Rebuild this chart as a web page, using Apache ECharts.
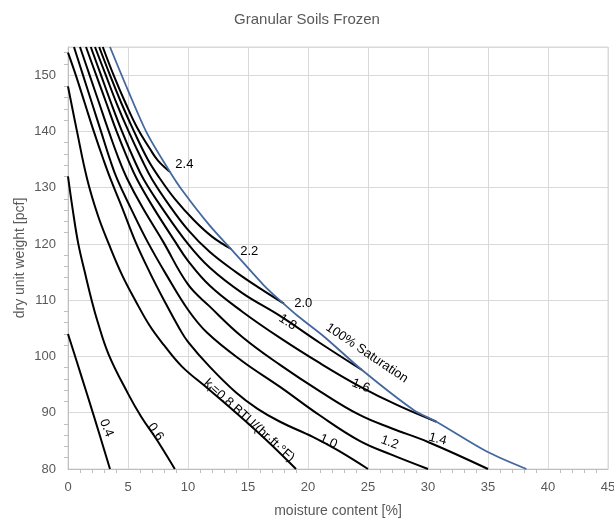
<!DOCTYPE html>
<html>
<head>
<meta charset="utf-8">
<script src="https://cdn.jsdelivr.net/npm/echarts@6.0.0/dist/echarts.min.js"></script>
<style>
html,body{margin:0;padding:0;background:#fff}
#chart{width:614px;height:523px}
</style>
</head>
<body>
<div id="chart"></div>
<script>
// thermal conductivity contours kf, [moisture %, dry unit weight pcf]
var k04 = [[0,104],[1.1,96.6],[2.1,89.8],[3.5,80]];
var k06 = [[0,132],[0.4,126],[0.86,120],[1.4,115],[1.97,110],[2.45,106.3],[3.4,100.3],[5.0,93.4],[6.1,89.3],[7.4,85.2],[8.9,80]];
var k08 = [[0,148],[0.75,140],[1.6,131.5],[2.5,125],[3.4,120],[4.5,114.5],[5.6,110],[6.8,105.5],[8.0,102],[9.5,98.2],[11.6,94.4],[14,90],[16.5,85.2],[19,80]];
var k10 = [[0,154],[0.65,150],[1.4,145],[2.15,140],[2.95,135],[3.55,131.5],[4.5,126.5],[5.6,120.5],[6.8,115],[8.0,110],[9.33,104.8],[10,102.6],[11.8,98.2],[14,93.6],[15.8,90.7],[17.67,88.4],[20.4,85.7],[22.5,83.3],[25,80]];
var k12 = [[0.5,155],[1.25,150],[2.0,145],[2.75,140],[3.5,135],[4.1,131.5],[5.2,126.5],[6.6,120.5],[8.2,114.5],[10,108.3],[11.6,104.2],[14.5,99.2],[17.67,94.6],[21,89.5],[24.3,85],[27,82.5],[30,80]];
var k14 = [[1.0,155],[1.8,150],[2.6,145],[3.4,140],[4.25,135],[4.95,131.5],[6.2,126.5],[7.9,120.5],[10,112.8],[11.8,108.9],[14.5,103.5],[17.67,98.5],[21,93.8],[24.3,89.6],[27,87.2],[30,84.8],[35,80]];
var k16 = [[1.5,155],[2.35,150],[3.2,145],[4.05,140],[5.0,135],[5.75,131.5],[7.1,126.5],[8.9,120.5],[10,117],[11.8,112.6],[14.5,108],[17.67,103.3],[21,98.8],[24.3,94.7],[27.5,91.3],[30.7,88.4]];
var k18 = [[1.9,155],[2.75,150],[3.6,145],[4.5,140],[5.5,135],[6.3,131.5],[7.8,126.5],[10,120],[11.8,115.8],[14.5,111.3],[17.67,107.2],[21,102.4],[24.5,97.6]];
var k20 = [[2.25,155],[3.15,150],[4.05,145],[5.05,140],[6.15,135],[7.0,131.5],[8.4,127],[10,122.5],[11.8,118.6],[14,115],[16,112.1],[18,109.4]];
var k22 = [[2.6,155],[3.5,150],[4.45,145],[5.5,140],[6.65,135],[7.6,131.8],[8.9,128],[10.5,124.2],[12,121.3],[13.6,119.1]];
var k24 = [[2.9,155],[3.8,150],[4.8,145],[5.8,140.5],[6.8,137],[7.5,134.8],[8.5,132.8]];
var satLine = [[3.5,155],[5.0,147.3],[6.6,139.6],[8.5,132.8],[9.5,129.6],[11.8,123.3],[13.8,118.6],[16.3,112.7],[17.8,109.7],[19.2,107.1],[21.3,103.6],[24.5,97.6],[28.8,90.5],[30.7,88.4],[34.9,83.1],[38.2,80]];

var contours = [k04, k06, k08, k10, k12, k14, k16, k18, k20, k22, k24];
var kValues = ['0.4','0.6','0.8','1.0','1.2','1.4','1.6','1.8','2.0','2.2','2.4'];

// label text, anchor [x, y] in data units, angle in degrees
var labelTexts = ['0.4','0.6','k{s|f}=0.8 BTU/(hr·ft·°F)','1.0','1.2','1.4','1.6','1.8','2.0','2.2','2.4','100% Saturation'];
var labelAt = [[3.2,87.3],[7.3,86.6],[15.1,88.6],[21.7,84.9],[26.8,84.7],[30.8,85.3],[24.4,94.8],[18.3,106.1],[19.6,109.4],[15.1,118.7],[9.7,134.1],[24.9,100.6]];
var labelAngle = [-68,-55,-42,-24,-20,-14,-22,-33,0,0,0,-34];

var font = 'Liberation Sans';
var chart = echarts.init(document.getElementById('chart'));

var series = contours.map(function (d, i) {
    return {
        name: 'k' + kValues[i],
        type: 'line',
        data: d,
        smooth: 0.4,
        showSymbol: false,
        lineStyle: {color: '#000', width: 2},
        z: 3
    };
});
series.push({
    name: '100% Saturation',
    type: 'line',
    data: satLine,
    smooth: 0.3,
    showSymbol: false,
    lineStyle: {color: '#44679e', width: 1.8},
    z: 4
});

chart.setOption({
    animation: false,
    title: {
        text: 'Granular Soils Frozen',
        left: 'center',
        top: 7,
        textStyle: {fontFamily: font, fontSize: 15, fontWeight: 'normal', color: '#595959'}
    },
    grid: {left: 68, right: 6, top: 47, bottom: 54, show: true, borderColor: '#d9d9d9', borderWidth: 1, outerBoundsMode: 'none'},
    xAxis: {
        type: 'value', min: 0, max: 45, interval: 5,
        name: 'moisture content [%]', nameLocation: 'middle', nameGap: 35, nameMoveOverlap: false,
        nameTextStyle: {fontFamily: font, fontSize: 14, color: '#595959'},
        axisLine: {lineStyle: {color: '#bfbfbf'}},
        axisTick: {show: false},
        minorTick: {show: true, splitNumber: 5, length: 4, lineStyle: {color: '#bfbfbf'}},
        axisLabel: {fontFamily: font, fontSize: 13, color: '#595959', margin: 12},
        splitLine: {lineStyle: {color: '#d9d9d9', width: 1}}
    },
    yAxis: {
        type: 'value', min: 80, max: 155, interval: 10,
        name: 'dry unit weight [pcf]', nameLocation: 'middle', nameGap: 41, nameMoveOverlap: false,
        nameTextStyle: {fontFamily: font, fontSize: 14, color: '#595959'},
        axisLine: {show: true, lineStyle: {color: '#bfbfbf'}},
        axisTick: {show: false},
        minorTick: {show: true, splitNumber: 5, length: 4, lineStyle: {color: '#bfbfbf'}},
        axisLabel: {fontFamily: font, fontSize: 13, color: '#595959', margin: 12, showMaxLabel: false},
        splitLine: {lineStyle: {color: '#d9d9d9', width: 1}}
    },
    series: series
});

// minor ticks point into the plot
chart.setOption({
    xAxis: {minorTick: {inside: true}},
    yAxis: {minorTick: {inside: true}}
});

// contour labels
var texts = labelTexts.map(function (t, i) {
    var p = chart.convertToPixel({gridIndex: 0}, labelAt[i]);
    return {
        type: 'text',
        x: p[0], y: p[1],
        rotation: labelAngle[i] * Math.PI / 180,
        z: 10,
        style: {
            text: t,
            fill: '#000',
            font: '13px ' + font,
            align: 'center',
            verticalAlign: 'middle',
            rich: {s: {fontSize: 9, fontFamily: font, verticalAlign: 'bottom', padding: [8, 0, 0, 0]}}
        }
    };
});
chart.setOption({graphic: texts});
</script>
</body>
</html>
